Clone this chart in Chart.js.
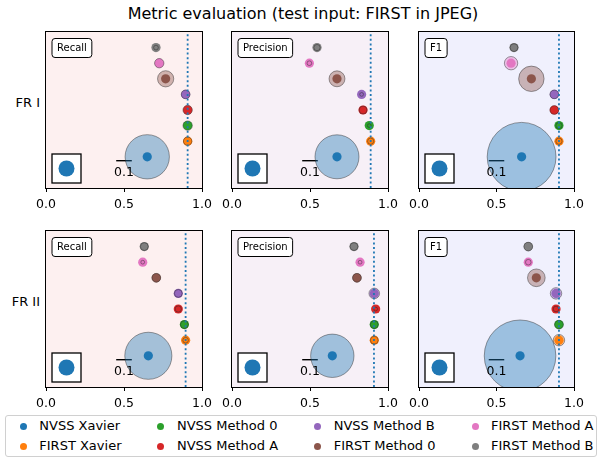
<!DOCTYPE html>
<html><head><meta charset="utf-8">
<script src="https://cdn.jsdelivr.net/npm/chart.js@4"></script>
<style>
body{margin:0;width:612px;height:459px;background:#fff;position:relative;overflow:hidden;font-family:'DejaVu Sans',sans-serif;}
canvas{position:absolute;}
.t{position:absolute;white-space:nowrap;color:#000;}
</style></head><body>
<div class="t" style="left:0;width:606px;top:4px;text-align:center;font-size:16px;line-height:19px;">Metric evaluation (test input: FIRST in JPEG)</div>
<div class="t" style="right:572px;top:95px;font-size:13px;line-height:16px;">FR I</div>
<div class="t" style="right:572px;top:294px;font-size:13px;line-height:16px;">FR II</div>
<div id="legend" style="position:absolute;left:5px;top:415px;width:592px;height:42px;border:1px solid #d0d0d0;border-radius:3px;box-sizing:border-box;"></div>
<script>
// ---- data ----
const methods = ['NVSS Xavier','FIRST Xavier','NVSS Method 0','NVSS Method A','NVSS Method B','FIRST Method 0','FIRST Method A','FIRST Method B'];
const rowLabels = ['FR I','FR II'];
const metrics = ['Recall','Precision','F1'];
const xTicks = [0, 0.5, 1.0];

const recallFR1     = [0.649, 0.908, 0.908, 0.908, 0.895, 0.767, 0.726, 0.705];
const recallFR1Err  = [0.142, 0.027, 0.030, 0.030, 0.028, 0.052, 0.030, 0.015];
const recallFR1Ref  = 0.908;
const precisionFR1    = [0.673, 0.889, 0.880, 0.840, 0.831, 0.673, 0.496, 0.545];
const precisionFR1Err = [0.141, 0.020, 0.012, 0.025, 0.012, 0.051, 0.015, 0.020];
const precisionFR1Ref = 0.889;
const f1FR1     = [0.662, 0.903, 0.903, 0.873, 0.873, 0.725, 0.594, 0.613];
const f1FR1Err  = [0.222, 0.020, 0.020, 0.028, 0.028, 0.082, 0.043, 0.025];
const f1FR1Ref  = 0.903;

const recallFR2     = [0.656, 0.895, 0.887, 0.848, 0.848, 0.707, 0.620, 0.630];
const recallFR2Err  = [0.151, 0.018, 0.025, 0.020, 0.025, 0.028, 0.012, 0.025];
const recallFR2Ref  = 0.895;
const precisionFR2    = [0.643, 0.912, 0.912, 0.921, 0.912, 0.801, 0.821, 0.782];
const precisionFR2Err = [0.139, 0.025, 0.025, 0.012, 0.034, 0.028, 0.012, 0.025];
const precisionFR2Ref = 0.910;
const f1FR2     = [0.652, 0.903, 0.903, 0.884, 0.884, 0.757, 0.705, 0.705];
const f1FR2Err  = [0.231, 0.037, 0.028, 0.018, 0.037, 0.057, 0.018, 0.028];
const f1FR2Ref  = 0.903;

const scaleBarLength = 0.1;

// ---- styles / layout ----
const colors = ['#1f77b4','#ff7f0e','#2ca02c','#d62728','#9467bd','#8c564b','#e377c2','#7f7f7f'];
function alpha(hex,a){const n=parseInt(hex.slice(1),16);return `rgba(${n>>16},${(n>>8)&255},${n&255},${a})`;}
const bgColors = {Recall:'#fdf0f0', Precision:'#f7f0f7', F1:'#f0f0fd'};
const colLeft = [46, 232, 419], colWidth = [156, 156, 155];
const rowTop = [32, 231], plotH = 156;
const PADL = 40, PADT = 5, PADR = 16, PADB = 28;

const panels = [
  {row:0,col:0,metric:'Recall',vals:recallFR1,errs:recallFR1Err,ref:recallFR1Ref},
  {row:0,col:1,metric:'Precision',vals:precisionFR1,errs:precisionFR1Err,ref:precisionFR1Ref},
  {row:0,col:2,metric:'F1',vals:f1FR1,errs:f1FR1Err,ref:f1FR1Ref},
  {row:1,col:0,metric:'Recall',vals:recallFR2,errs:recallFR2Err,ref:recallFR2Ref},
  {row:1,col:1,metric:'Precision',vals:precisionFR2,errs:precisionFR2Err,ref:precisionFR2Ref},
  {row:1,col:2,metric:'F1',vals:f1FR2,errs:f1FR2Err,ref:f1FR2Ref},
];

const panelPlugin = {
  id:'panel',
  beforeDraw(chart, args, o){
    const {ctx, chartArea:a} = chart;
    ctx.save(); ctx.fillStyle = o.bg; ctx.fillRect(a.left,a.top,a.right-a.left,a.bottom-a.top); ctx.restore();
  },
  afterDraw(chart, args, o){
    const {ctx, chartArea:a, scales:{x,y}} = chart;
    ctx.save();
    ctx.strokeStyle = '#000'; ctx.lineWidth = 1;
    ctx.strokeRect(a.left-0.5, a.top-0.5, a.right-a.left+1, a.bottom-a.top+1);
    // metric label box
    ctx.font = '10px "DejaVu Sans"';
    const tw = ctx.measureText(o.label).width;
    const bx = a.left+6, by = a.top+6.5, bw = tw+10, bh = 19;
    ctx.beginPath(); ctx.roundRect(bx, by, bw, bh, 3);
    ctx.fillStyle = '#fff'; ctx.fill(); ctx.lineWidth = 1; ctx.strokeStyle = '#000'; ctx.stroke();
    ctx.fillStyle = '#000'; ctx.textBaseline = 'middle'; ctx.textAlign = 'left';
    ctx.fillText(o.label, bx+5, by+bh/2+0.5);
    // size inset box
    const ix = a.left+6, iy = a.bottom-34, is = 29;
    ctx.fillStyle = '#fff'; ctx.fillRect(ix, iy, is, is);
    ctx.lineWidth = 1.3; ctx.strokeStyle = '#000'; ctx.strokeRect(ix, iy, is, is);
    ctx.beginPath(); ctx.arc(ix+is/2, iy+is/2, 8, 0, Math.PI*2); ctx.fillStyle = colors[0]; ctx.fill();
    // scale bar label
    ctx.font = '12.5px "DejaVu Sans"'; ctx.fillStyle = '#000'; ctx.textAlign = 'center';
    ctx.fillText(String(scaleBarLength), x.getPixelForValue(0.5), y.getPixelForValue(1.75)+12);
    ctx.restore();
  }
};

panels.forEach(p => {
  const cv = document.createElement('canvas');
  const w = colWidth[p.col] + PADL + PADR, h = plotH + PADT + PADB;
  cv.width = w; cv.height = h;
  cv.style.left = (colLeft[p.col]-PADL)+'px'; cv.style.top = (rowTop[p.row]-PADT)+'px';
  cv.style.width = w+'px'; cv.style.height = h+'px';
  document.body.appendChild(cv);
  const pts = p.vals.map((v,i)=>({x:v, y:i+2, e:p.errs[i]}));
  new Chart(cv, {
    type:'scatter',
    data:{datasets:[
      {type:'line', data:[{x:p.ref,y:0},{x:p.ref,y:10}], showLine:true, borderColor:colors[0], borderWidth:1.8, borderDash:[2,2.6], pointRadius:0, order:0},
      {data:pts, pointRadius:c=>{const xs=c.chart.scales.x; return Math.abs(xs.getPixelForValue(c.raw.e)-xs.getPixelForValue(0));},
        pointBackgroundColor:colors.map(c=>alpha(c,0.4)), pointBorderColor:'rgba(40,40,40,0.45)', pointBorderWidth:1, order:1},
      {data:pts, pointRadius:4.6, pointBackgroundColor:colors, pointBorderWidth:0, order:2},
      {type:'line', data:[{x:0.5-scaleBarLength/2,y:1.75},{x:0.5+scaleBarLength/2,y:1.75}], showLine:true, borderColor:'#000', borderWidth:1.4, pointRadius:0, order:3},
    ]},
    options:{
      responsive:false, animation:false, devicePixelRatio:1, events:[],
      layout:{padding:{left:0,top:PADT,right:PADR,bottom:0}},
      plugins:{legend:{display:false}, tooltip:{enabled:false}, panel:{bg:bgColors[p.metric], label:p.metric}},
      scales:{
        x:{type:'linear', min:0, max:1,
           afterBuildTicks:s=>{s.ticks = xTicks.map(v=>({value:v}));},
           ticks:{callback:v=>v.toFixed(1), font:{family:'DejaVu Sans', size:12.5}, color:'#000', padding:5, maxRotation:0},
           grid:{display:true, drawOnChartArea:false, drawTicks:true, tickLength:4, color:'#000', lineWidth:1},
           border:{display:false},
           afterFit:s=>{s.height = PADB; s.paddingLeft = 0; s.paddingRight = 0;}},
        y:{type:'linear', min:0, max:10, ticks:{display:false}, grid:{display:false}, border:{display:false},
           afterFit:s=>{s.width = PADL; s.paddingTop = 0; s.paddingBottom = 0;}}
      }
    },
    plugins:[panelPlugin]
  });
});

// legend
const lg = document.getElementById('legend');
const mX = [22.7, 159.3, 316, 474.3], tX = [38.3, 176, 332.7, 490], rY = [425.7, 445.7];
methods.forEach((m,i)=>{
  const c = Math.floor(i/2), r = i%2;
  const d = document.createElement('div');
  d.style.cssText = `position:absolute;left:${mX[c]-5-3.5}px;top:${rY[r]-415-3.5}px;width:7px;height:7px;border-radius:50%;background:${colors[i]};`;
  lg.appendChild(d);
  const t = document.createElement('div');
  t.className = 't';
  t.style.cssText += `left:${tX[c]-5}px;top:${rY[r]-415-8.5}px;font-size:13px;line-height:16px;`;
  t.textContent = m;
  lg.appendChild(t);
});
</script>
</body></html>
